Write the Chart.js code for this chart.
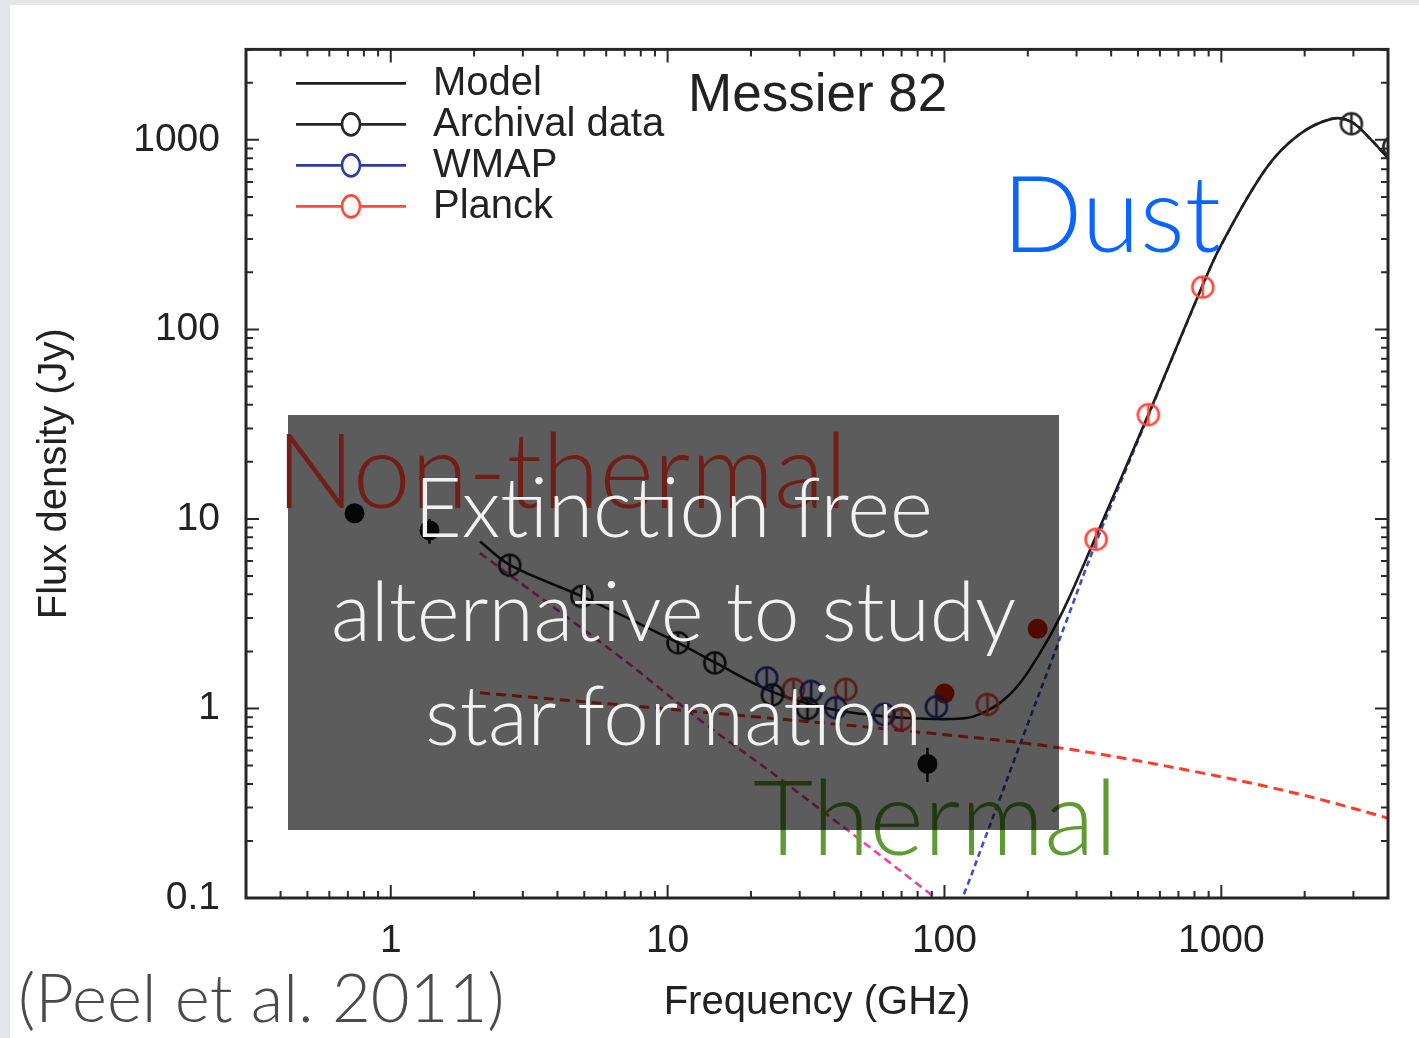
<!DOCTYPE html>
<html>
<head>
<meta charset="utf-8">
<script src="https://cdn.jsdelivr.net/npm/chart.js@4.4.0/dist/chart.umd.min.js"></script>
<style>
html, body { margin: 0; padding: 0; background: #e4e6eb; }
#slide { position: relative; width: 1419px; height: 1038px; overflow: hidden; }
#panel { position: absolute; left: 10px; top: 5px; right: 0; bottom: 0; background: #fff; }
#wrap { position: absolute; left: 0; top: 0; width: 1419px; height: 1038px; z-index: 1; }
.gill { position: absolute; font-family: Lato, "Open Sans", sans-serif; font-weight: 300; line-height: 1; white-space: nowrap; }
#thermal { left: 753px; top: 763px; font-size: 104px; color: #5e9b33; z-index: 2; }
#shade { position: absolute; left: 288px; top: 415px; width: 771px; height: 415px; background: rgba(0,0,0,0.64); z-index: 3; }
#nonthermal { left: 276px; top: 416px; font-size: 104px; color: #701e18; z-index: 4; }
#claim { left: 288px; top: 453px; width: 771px; font-size: 82px; line-height: 104px; text-align: center; color: #f2f2f2; z-index: 5; }
#dust { left: 1002px; top: 158px; font-size: 106px; color: #0a64ff; z-index: 4; }
#cite { left: 18px; top: 963px; font-size: 67px; color: #4a4a4a; z-index: 4; }
</style>
</head>
<body>
<div id="slide">
  <div id="panel"></div>
  <div id="wrap"><canvas id="sed"></canvas></div>
  <div class="gill" id="thermal">Thermal</div>
  <div id="shade"></div>
  <div class="gill" id="nonthermal">Non-thermal</div>
  <div class="gill" id="claim">Extinction free<br>alternative to study<br>star formation</div>
  <div class="gill" id="dust">Dust</div>
  <div class="gill" id="cite">(Peel et al. 2011)</div>
</div>
<script>
// Messier 82 spectrum (GHz, Jy)

// total model
var modelFreq = [2.1, 2.7, 4.9, 10.7, 14.8, 24, 38, 60, 90, 120, 140, 160, 180, 200, 240, 280, 350, 545, 850, 1000, 1450, 1900, 2500, 2950, 3500, 4000];
var modelFlux = [7.6, 5.7, 3.9, 2.25, 1.75, 1.22, 1.0, 0.91, 0.88, 0.89, 0.96, 1.08, 1.27, 1.55, 2.4, 3.75, 7.9, 35.5, 167, 280, 705, 1060, 1290, 1245, 990, 800];

// components (dashed)
var syncFreq = [2.1, 6.7, 13, 24.7, 90.5, 100];
var syncFlux = [6.6, 1.88, 0.875, 0.44, 0.103, 0.091];
var ffFreq = [2.1, 13, 81, 260, 830, 1914, 3860, 4000];
var ffFlux = [1.21, 0.96, 0.75, 0.62, 0.46, 0.353, 0.268, 0.262];
var dustFreq = [110, 120, 140, 160, 180, 200, 240, 280, 350, 545, 850, 1000, 1450, 1900, 2500, 2950, 3500, 4000];
var dustFlux = [0.084, 0.113, 0.206, 0.346, 0.55, 0.83, 1.68, 3.07, 7.3, 35, 166, 279, 704, 1059, 1289, 1244, 989, 799];

// data points
var archFreq = [2.69, 4.9, 10.9, 14.8, 23.9, 32, 2950, 4200];
var archFlux = [5.7, 3.9, 2.22, 1.74, 1.18, 1.0, 1216, 920];
var archFilledFreq = [0.74, 1.38, 86.8];
var archFilledFlux = [10.7, 8.7, 0.51];
var archFilledLo = [10.2, 7.4, 0.41];
var archFilledHi = [11.2, 10.0, 0.62];
var wmapFreq = [22.8, 33, 40.5, 60.5, 93.5];
var wmapFlux = [1.45, 1.23, 1.01, 0.93, 1.02];
var planckFreq = [28.5, 44, 70, 143, 353, 545, 857];
var planckFlux = [1.26, 1.26, 0.875, 1.05, 7.8, 35.5, 167];
var planckCOFreq = [100, 217];
var planckCOFlux = [1.2, 2.63];

// axes
var xTicks = [1, 10, 100, 1000];
var xTickLabels = ['1', '10', '100', '1000'];
var yTicks = [0.1, 1, 10, 100, 1000];
var yTickLabels = ['0.1', '1', '10', '100', '1000'];

var ink = '#222222';
var sansFont = '"Liberation Sans", Arial, Helvetica, sans-serif';

function pts(xs, ys) {
    return xs.map(function (x, i) { return { x: x, y: ys[i] }; });
}

// open circle with a small vertical error bar through it
function ringMarker(color) {
    var r = 10.5, lw = 2.6;
    var c = document.createElement('canvas');
    var s = Math.ceil(2 * r + lw + 2);
    c.width = s; c.height = s;
    var g = c.getContext('2d');
    g.strokeStyle = color; g.lineWidth = lw;
    g.beginPath(); g.arc(s / 2, s / 2, r, 0, Math.PI * 2); g.stroke();
    g.beginPath(); g.moveTo(s / 2, s / 2 - r); g.lineTo(s / 2, s / 2 + r); g.stroke();
    return c;
}

function pointSet(label, xs, ys, color, filled) {
    return {
        label: label,
        data: pts(xs, ys),
        showLine: false,
        pointStyle: filled ? 'circle' : ringMarker(color),
        pointRadius: filled ? 10 : 11,
        backgroundColor: color,
        borderColor: color,
        borderWidth: 0,
        clip: 0
    };
}

function curveSet(label, xs, ys, color, width, dash) {
    return {
        label: label,
        data: pts(xs, ys),
        showLine: true,
        pointRadius: 0,
        borderColor: color,
        borderWidth: width,
        borderDash: dash,
        tension: 0.35,
        clip: 0
    };
}

var archFilled = pointSet('Archival (filled)', archFilledFreq, archFilledFlux, '#111111', true);
archFilled.errLo = archFilledLo;
archFilled.errHi = archFilledHi;

var datasets = [
    pointSet('Archival data', archFreq, archFlux, '#262626', false),
    pointSet('WMAP', wmapFreq, wmapFlux, '#2a3aa6', false),
    pointSet('Planck', planckFreq, planckFlux, '#ff4a3a', false),
    archFilled,
    pointSet('Planck (CO)', planckCOFreq, planckCOFlux, '#e01a00', true),
    curveSet('Model', modelFreq, modelFlux, '#1e1e1e', 2.6, []),
    curveSet('Synchrotron', syncFreq, syncFlux, '#ff3d9e', 2.6, [8, 5]),
    curveSet('Free-free', ffFreq, ffFlux, '#ff3b2a', 3, [10, 6]),
    curveSet('Dust', dustFreq, dustFlux, '#3a4fc4', 2.6, [6, 4])
];

// legend rows: dataset label + whether a marker sits on the line
var legendRows = [
    { name: 'Model', marker: false },
    { name: 'Archival data', marker: true },
    { name: 'WMAP', marker: true },
    { name: 'Planck', marker: true }
];

var decor = {
    id: 'decor',
    afterDatasetsDraw: function (chart) {
        var ctx = chart.ctx, xs = chart.scales.x, ys = chart.scales.y;
        chart.data.datasets.forEach(function (ds) {
            if (!ds.errLo) return;
            ctx.save();
            ctx.strokeStyle = ds.backgroundColor;
            ctx.lineWidth = 2.5;
            ds.data.forEach(function (p, j) {
                var px = xs.getPixelForValue(p.x);
                ctx.beginPath();
                ctx.moveTo(px, ys.getPixelForValue(ds.errLo[j]));
                ctx.lineTo(px, ys.getPixelForValue(ds.errHi[j]));
                ctx.stroke();
            });
            ctx.restore();
        });
    },
    afterDraw: function (chart) {
        var ctx = chart.ctx, a = chart.chartArea;
        var xs = chart.scales.x, ys = chart.scales.y;
        ctx.save();

        // inward ticks on all four sides
        function logSteps(min, max) {
            var out = [];
            for (var e = -2; e <= 4; e++) {
                for (var m = 1; m <= 9; m++) {
                    var v = m * Math.pow(10, e);
                    if (v >= min * 0.999 && v <= max * 1.001) out.push({ v: v, major: m === 1 });
                }
            }
            return out;
        }
        ctx.strokeStyle = '#2a2a2a';
        ctx.lineWidth = 2;
        logSteps(xs.min, xs.max).forEach(function (t) {
            var px = xs.getPixelForValue(t.v), len = t.major ? 13 : 7;
            ctx.beginPath();
            ctx.moveTo(px, a.bottom); ctx.lineTo(px, a.bottom - len);
            ctx.moveTo(px, a.top); ctx.lineTo(px, a.top + len);
            ctx.stroke();
        });
        logSteps(ys.min, ys.max).forEach(function (t) {
            var py = ys.getPixelForValue(t.v), len = t.major ? 13 : 7;
            ctx.beginPath();
            ctx.moveTo(a.left, py); ctx.lineTo(a.left + len, py);
            ctx.moveTo(a.right, py); ctx.lineTo(a.right - len, py);
            ctx.stroke();
        });

        // frame
        ctx.lineWidth = 3;
        ctx.strokeStyle = '#262626';
        ctx.strokeRect(a.left, a.top, a.right - a.left, a.bottom - a.top);

        // legend inside the plot
        ctx.font = '40px ' + sansFont;
        ctx.textBaseline = 'middle';
        ctx.textAlign = 'left';
        legendRows.forEach(function (row, i) {
            var ds = chart.data.datasets.filter(function (d) { return d.label === row.name; })[0];
            var y = a.top + 34 + i * 41;
            var col = ds.borderColor;
            ctx.strokeStyle = col;
            ctx.lineWidth = 2.6;
            ctx.beginPath(); ctx.moveTo(a.left + 50, y); ctx.lineTo(a.left + 160, y); ctx.stroke();
            if (row.marker) {
                ctx.fillStyle = '#ffffff';
                ctx.beginPath(); ctx.ellipse(a.left + 105, y, 9, 11, 0, 0, Math.PI * 2); ctx.fill(); ctx.stroke();
            }
            ctx.fillStyle = ink;
            ctx.fillText(row.name, a.left + 187, y + 1);
        });

        // object name
        ctx.font = '53px ' + sansFont;
        ctx.textBaseline = 'alphabetic';
        ctx.fillStyle = ink;
        ctx.fillText('Messier 82', a.left + 442, a.top + 62);
        ctx.restore();
    }
};

new Chart(document.getElementById('sed'), {
    type: 'scatter',
    data: { datasets: datasets },
    options: {
        responsive: true,
        maintainAspectRatio: false,
        animation: false,
        layout: { padding: { top: 45, right: 31, bottom: 0, left: 0 } },
        plugins: { legend: { display: false }, tooltip: { enabled: false } },
        scales: {
            x: {
                type: 'logarithmic',
                position: 'bottom',
                min: 0.3,
                max: 4000,
                grid: { display: false, drawTicks: false },
                border: { display: false },
                afterBuildTicks: function (s) { s.ticks = xTicks.map(function (v) { return { value: v }; }); },
                afterFit: function (s) { s.height = 140; },
                ticks: {
                    autoSkip: false, maxRotation: 0, padding: 20,
                    color: ink, font: { family: sansFont, size: 39 },
                    callback: function (v, i) { return xTickLabels[i]; }
                },
                title: { display: true, text: 'Frequency (GHz)', color: ink, font: { family: sansFont, size: 40 }, padding: { top: 0, bottom: 11 } }
            },
            y: {
                type: 'logarithmic',
                position: 'left',
                min: 0.1,
                max: 3000,
                grid: { display: false, drawTicks: false },
                border: { display: false },
                afterBuildTicks: function (s) { s.ticks = yTicks.map(function (v) { return { value: v }; }); },
                afterFit: function (s) { s.width = 246; },
                ticks: {
                    autoSkip: false, padding: 26,
                    color: ink, font: { family: sansFont, size: 39 },
                    callback: function (v, i) { return yTickLabels[i]; }
                },
                title: { display: true, text: 'Flux density (Jy)', color: ink, font: { family: sansFont, size: 40 }, padding: { top: 31, bottom: 0 } }
            }
        }
    },
    plugins: [decor]
});
</script>
</body>
</html>
